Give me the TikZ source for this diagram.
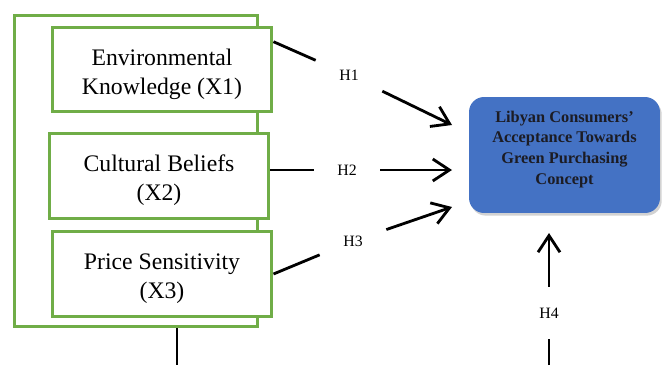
\documentclass[tikz,border=0pt]{standalone}
\usepackage{fontspec}
\setmainfont{Liberation Serif}
\usetikzlibrary{arrows.meta,positioning,shadows}
\definecolor{boxgreen}{HTML}{70AD47}
\definecolor{conceptblue}{HTML}{4472C4}
\definecolor{darktext}{HTML}{1C1C24}
\tikzset{every shadow/.style={fill=black!35,shadow xshift=1pt,shadow yshift=-1.5pt}}
\tikzset{
  grpbox/.style={rectangle,draw=boxgreen,line width=1.7pt},
  varbox/.style={rectangle,draw=boxgreen,line width=1.7pt,fill=white,
    minimum width=4.4cm,minimum height=1.7cm,align=center,
    font=\fontsize{13.5}{16.5}\selectfont,text height=31.3pt},
  dvbox/.style={rectangle,rounded corners=0.3cm,fill=conceptblue,drop shadow,
    minimum width=3.82cm,minimum height=2.32cm,align=center,text=darktext,
    font=\fontsize{9.3}{11.7}\selectfont\bfseries,text depth=8.5pt},
  hyp/.style={minimum width=1.32cm,minimum height=1cm,inner sep=0pt,
    font=\fontsize{9}{10}\selectfont},
  link/.style={line width=1.6pt},
  tip/.style={-{Straight Barb[length=9.5pt,width=12.5pt]}}
}
\begin{document}
\begin{tikzpicture}[x=0.02cm,y=-0.02cm]
\useasboundingbox (0,0) rectangle (662,365);
% frame round the three factors
\node (group) [grpbox,minimum width=4.88cm,minimum height=6.24cm] at (136,171) {};
\node (x1) [varbox] at (162,69.5) {Environmental\\Knowledge (X1)};
\node (x2) [varbox] at (159,176) {Cultural Beliefs\\(X2)};
\node (x3) [varbox] at (162,274) {Price Sensitivity\\(X3)};
\node (y) [dvbox] at (564.5,155) {Libyan Consumers'\\Acceptance Towards\\Green Purchasing\\Concept};
%
\node (h1) [hyp] at (349,75) {H1};
\node (h2) [hyp] at (347,170) {H2};
\node (h3) [hyp] at (353,241) {H3};
\node (h4) [hyp,minimum height=1.04cm] at (549,313) {H4};
\coordinate (t1) at (452,125);
\coordinate (t2) at (452,170);
\coordinate (t3) at (452,207);
\coordinate (t4) at (549,233);
\coordinate (b1) at (177,365);
\coordinate (b2) at (549,365);
%
\draw[link] (x1.14) -- (h1);
\draw[link,tip] (h1) -- (t1);
\draw[link] (x2.east |- h2) -- (h2);
\draw[link,tip] (h2) -- (t2);
\draw[link] (x3.east) -- (h3);
\draw[link,tip] (h3) -- (t3);
\draw[link] (b2) -- (h4);
\draw[link,tip] (h4) -- (t4);
\draw[link] (group.south -| b1) -- (b1);
\end{tikzpicture}
\end{document}
